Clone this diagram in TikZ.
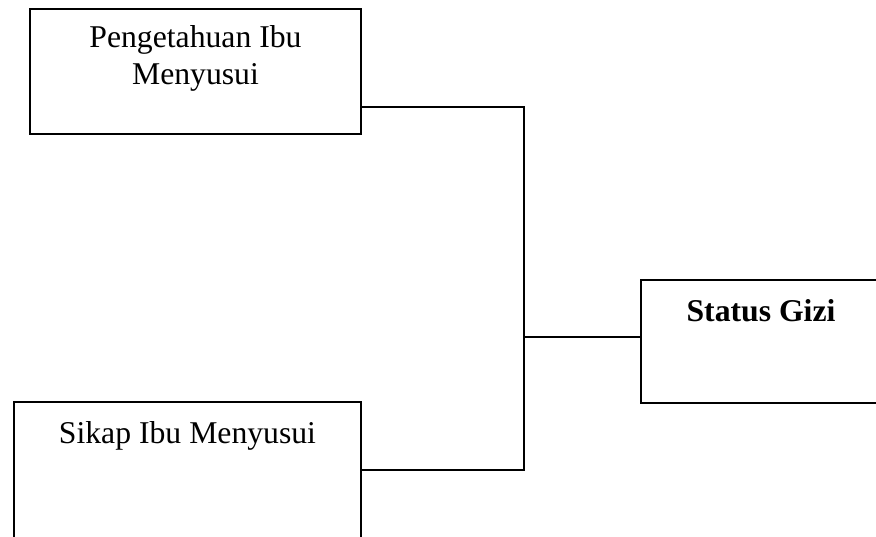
\documentclass[tikz,border=0pt]{standalone}
\usepackage{fontspec}
\setmainfont{Liberation Serif}
\begin{document}
\begin{tikzpicture}[x=1pt,y=-1pt,
  box/.style={draw,line width=1.6pt,rectangle,inner sep=0pt,outer sep=0pt},
  lbl/.style={inner sep=0pt,align=center,font=\fontsize{31.7}{37}\selectfont},
  conn/.style={line width=1.6pt}]
\useasboundingbox (0,0) rectangle (876,537);
\clip (0,0) rectangle (876,537);
\node[box,minimum width=331pt,minimum height=125pt] (b1) at (195.5,71.5) {};
\node[box,minimum width=240pt,minimum height=123pt] (b2) at (761,341.5) {};
\node[box,minimum width=347pt,minimum height=142pt] (b3) at (187.5,473) {};
\node[lbl,anchor=base] (t1a) at (195.5,48) {Pengetahuan Ibu};
\node[lbl,anchor=base] (t1b) at (195.5,85) {Menyusui};
\node[lbl,anchor=base,font=\fontsize{31.7}{37}\selectfont\bfseries] (t2) at (761,322) {Status Gizi};
\node[lbl,anchor=base] (t3) at (187.5,443) {Sikap Ibu Menyusui};
\coordinate (j) at (524,337);
\coordinate (p1) at ([yshift=27pt]b1.south east);
\coordinate (p3) at ([yshift=-68pt]b3.north east);
\coordinate (p2) at (b2.west |- j);
\draw[conn] (p1) -| (j) |- (p3);
\draw[conn] (j) -- (p2);
\end{tikzpicture}
\end{document}
